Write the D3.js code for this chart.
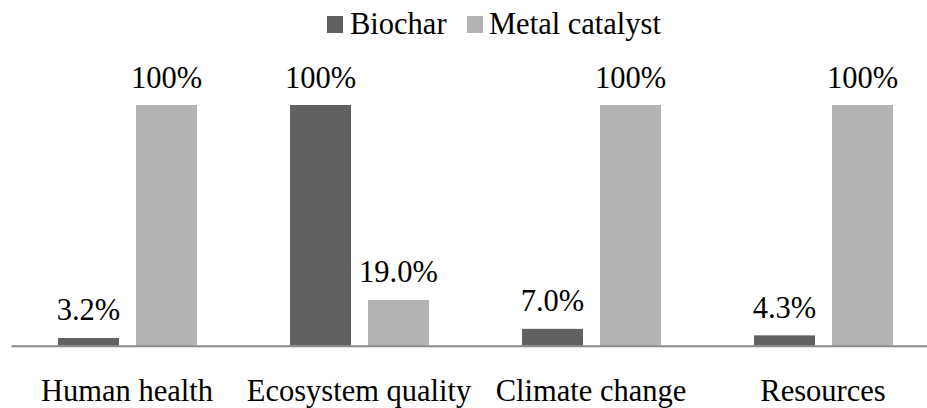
<!DOCTYPE html>
<html>
<head>
<meta charset="utf-8">
<script src="https://cdn.jsdelivr.net/npm/d3@7/dist/d3.min.js"></script>
<style>
  html, body { margin: 0; padding: 0; background: #fff; }
  svg { display: block; }
  svg text { font-family: 'Liberation Serif', 'Times New Roman', serif; }
</style>
</head>
<body>
<svg id="chart" width="927" height="408" font-family="'Liberation Serif', 'Times New Roman', serif"></svg>
<script>
// Relative impact per category (percent of the larger option)
const categories = ["Human health", "Ecosystem quality", "Climate change", "Resources"];
const seriesNames = ["Biochar", "Metal catalyst"];
const biochar = [3.2, 100, 7.0, 4.3];
const metalCatalyst = [100, 19.0, 100, 100];
const valueLabels = [
  ["3.2%", "100%", "7.0%", "4.3%"],
  ["100%", "19.0%", "100%", "100%"]
];
const colors = ["#616161", "#b3b3b3"];

const FONT = "'Liberation Serif', 'Times New Roman', serif";
const FONT_SIZE = 30.5;

const svg = d3.select("#chart");

// category bands; the plot continues slightly past the right edge
const x0 = d3.scaleBand().domain(categories).range([11, 939]).padding(0);
const bw = x0.bandwidth();
const x1 = d3.scaleBand().domain(seriesNames)
  .range([bw * 0.2026, bw * 0.8017]).paddingInner(0.218).paddingOuter(0);
const y = d3.scaleLinear().domain([0, 100]).range([345.7, 105]);

const seriesValues = [biochar, metalCatalyst];
const rows = [];
seriesNames.forEach((s, si) => {
  categories.forEach((c, ci) => {
    rows.push({ series: s, si, category: c, value: seriesValues[si][ci], label: valueLabels[si][ci] });
  });
});

// bars
svg.append("g").selectAll("rect").data(rows).join("rect")
  .attr("x", d => x0(d.category) + x1(d.series))
  .attr("y", d => y(d.value))
  .attr("width", x1.bandwidth())
  .attr("height", d => y(0) - y(d.value))
  .attr("fill", d => colors[d.si]);

// value labels above bars
svg.append("g").selectAll("text").data(rows).join("text")
  .attr("x", d => x0(d.category) + x1(d.series) + x1.bandwidth() / 2)
  .attr("y", d => y(d.value) - 17.5)
  .attr("text-anchor", "middle")
  .attr("font-family", FONT)
  .attr("font-size", FONT_SIZE)
  .attr("fill", "#000")
  .text(d => d.label);

// category axis
const axis = svg.append("g")
  .attr("transform", `translate(0,${y(0)})`)
  .call(d3.axisBottom(x0).tickSize(0).tickPadding(34));
axis.attr("font-family", FONT).attr("font-size", FONT_SIZE);
axis.select(".domain").attr("stroke", "#888888").attr("stroke-width", 2);
axis.selectAll(".tick text")
  .attr("font-family", FONT)
  .attr("font-size", FONT_SIZE)
  .attr("fill", "#000");

// legend
const legendItems = [
  { name: seriesNames[0], color: colors[0], sx: 327, tx: 350 },
  { name: seriesNames[1], color: colors[1], sx: 467, tx: 489 }
];
const lg = svg.append("g");
lg.selectAll("rect").data(legendItems).join("rect")
  .attr("x", d => d.sx).attr("y", 16).attr("width", 16).attr("height", 17)
  .attr("fill", d => d.color);
lg.selectAll("text").data(legendItems).join("text")
  .attr("x", d => d.tx).attr("y", 34)
  .attr("font-family", FONT)
  .attr("font-size", FONT_SIZE)
  .attr("fill", "#000")
  .text(d => d.name);
</script>
</body>
</html>
